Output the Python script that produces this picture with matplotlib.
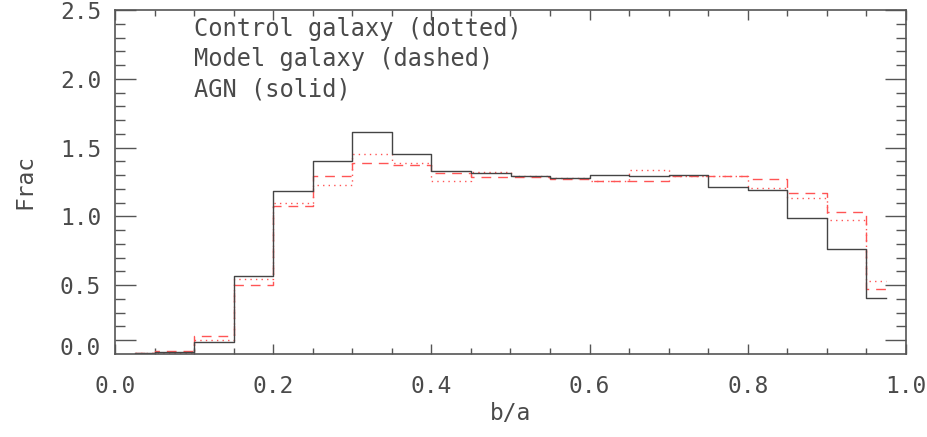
import matplotlib
matplotlib.use("Agg")
import matplotlib.pyplot as plt
import matplotlib.transforms as mtransforms
import numpy as np

plt.rcParams["font.family"] = ["DejaVu Sans Mono", "DejaVu Sans"]

# bin centres (b/a), bin width 0.05
ba = np.arange(0.025, 1.0, 0.05)

agn = [0.005, 0.015, 0.09, 0.57, 1.185, 1.40, 1.615, 1.45, 1.33, 1.315,
       1.29, 1.28, 1.30, 1.29, 1.30, 1.215, 1.19, 0.99, 0.765, 0.41]
model = [0.005, 0.025, 0.13, 0.505, 1.075, 1.29, 1.39, 1.37, 1.315, 1.285,
         1.285, 1.275, 1.26, 1.26, 1.29, 1.29, 1.275, 1.17, 1.035, 0.47]
control = [0.005, 0.01, 0.10, 0.545, 1.10, 1.225, 1.455, 1.39, 1.26, 1.32,
           1.29, 1.28, 1.26, 1.34, 1.29, 1.29, 1.205, 1.135, 0.975, 0.53]

ytick_pos = [0.1, 0.5, 1.0, 1.5, 2.0, 2.5]
ytick_lab = ["0.0", "0.5", "1.0", "1.5", "2.0", "2.5"]
xtick_pos = [0.0, 0.2, 0.4, 0.6, 0.8, 1.0]

fs = 16.5
tc = "#4a4a4a"

fig = plt.figure(figsize=(9.28, 4.37), dpi=100)
ax = fig.add_axes([115 / 928, 83 / 437, 791 / 928, 344 / 437])

ax.step(ba, control, where="mid", color="#ff5555", lw=1.0, ls=(0, (1, 3)))
ax.step(ba, model, where="mid", color="#ff5555", lw=1.0, ls=(0, (7, 5)))
ax.step(ba, agn, where="mid", color="#444444", lw=1.0)

ax.set_xlim(0, 1.0)
ax.set_ylim(0, 2.5)

ax.set_xticks(xtick_pos)
ax.set_xticklabels(["%.1f" % v for v in xtick_pos])
ax.set_xticks(np.arange(0, 1.0001, 0.05), minor=True)
ax.set_yticks(ytick_pos)
ax.set_yticklabels(ytick_lab)
ax.set_yticks(np.arange(0.1, 2.5, 0.1), minor=True)

ax.tick_params(axis="y", which="major", direction="in", length=15, width=1,
               color="#555555", right=True, labelsize=fs, pad=10, labelcolor=tc)
ax.tick_params(axis="y", which="minor", direction="in", length=7, width=1,
               color="#555555", right=True)
ax.tick_params(axis="x", which="major", direction="in", length=7, width=1,
               color="#555555", top=True, labelsize=fs, pad=15, labelcolor=tc)
ax.tick_params(axis="x", which="minor", direction="in", length=4, width=1,
               color="#555555", top=True)

# bottom y label sits a bit lower than its tick in the reference
lbl0 = ax.get_yticklabels()[0]
lbl0.set_transform(lbl0.get_transform() +
                   mtransforms.ScaledTranslation(0, -6 / 100, fig.dpi_scale_trans))

for s in ax.spines.values():
    s.set_color("#555555")
    s.set_linewidth(1.2)

ax.set_xlabel("b/a", fontsize=fs, color=tc, labelpad=3)
ax.set_ylabel("Frac", fontsize=fs, color=tc, labelpad=17)

ax.text(0.1, 0.98, "Control galaxy (dotted)\nModel galaxy (dashed)\nAGN (solid)",
        transform=ax.transAxes, fontsize=17, color=tc, va="top", ha="left",
        linespacing=1.32)

fig.savefig("out.png", dpi=100)
